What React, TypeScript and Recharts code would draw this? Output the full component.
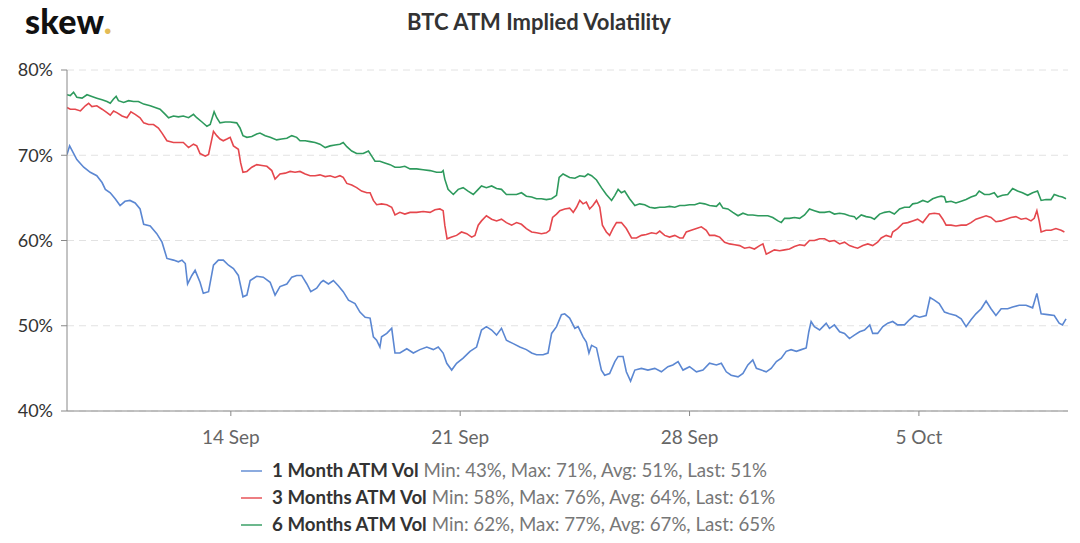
import { LineChart, Line, XAxis, YAxis, CartesianGrid } from "recharts";

// days since 9 Sep 00:00 -> implied vol (%)
const oneMonth: [number, number][] = [
  [0, 70.1], [0.08, 71.1], [0.3, 69.5], [0.51, 68.6], [0.71, 68.0], [0.91, 67.6], [1.07, 66.8], [1.17, 66.0],
  [1.32, 65.6], [1.47, 64.9], [1.62, 64.1], [1.77, 64.6], [1.92, 64.7], [2.08, 64.4], [2.23, 63.7], [2.34, 61.9],
  [2.54, 61.7], [2.74, 60.8], [2.9, 59.8], [3.05, 57.9], [3.25, 57.7], [3.4, 57.5], [3.51, 57.7], [3.61, 57.3],
  [3.68, 54.9], [3.81, 55.9], [3.91, 56.5], [4.06, 55.1], [4.16, 53.8], [4.32, 54.0], [4.47, 57.1], [4.62, 57.7],
  [4.77, 57.7], [4.93, 57.1], [5.08, 56.7], [5.23, 55.9], [5.37, 53.4], [5.49, 53.6], [5.59, 55.3], [5.79, 55.8],
  [5.99, 55.7], [6.2, 55.1], [6.35, 53.6], [6.5, 54.6], [6.71, 54.9], [6.86, 55.7], [7.01, 55.9], [7.16, 55.9],
  [7.32, 54.9], [7.44, 54.0], [7.62, 54.4], [7.75, 55.1], [7.82, 55.3], [7.98, 54.9], [8.13, 55.3], [8.28, 54.7],
  [8.43, 54.0], [8.59, 53.0], [8.79, 52.6], [8.94, 51.6], [9.1, 51.0], [9.25, 50.9], [9.35, 48.7], [9.45, 48.3],
  [9.55, 47.5], [9.6, 48.7], [9.76, 49.1], [9.91, 49.7], [10.01, 46.8], [10.16, 46.8], [10.37, 47.3], [10.57, 46.8],
  [10.77, 47.2], [10.98, 47.5], [11.18, 47.2], [11.33, 47.5], [11.48, 46.8], [11.59, 45.6], [11.74, 44.8], [11.89, 45.6],
  [12.09, 46.2], [12.3, 47.0], [12.5, 47.5], [12.65, 49.5], [12.8, 49.9], [12.96, 49.5], [13.11, 48.9], [13.26, 49.7],
  [13.41, 48.3], [13.62, 47.9], [13.82, 47.5], [14.02, 47.2], [14.18, 46.8], [14.33, 46.6], [14.53, 46.6], [14.68, 46.8],
  [14.79, 49.1], [14.94, 49.9], [15.09, 51.3], [15.19, 51.4], [15.34, 50.9], [15.5, 49.7], [15.6, 49.9], [15.75, 48.7],
  [15.85, 48.1], [15.93, 46.8], [16.01, 47.7], [16.16, 47.4], [16.31, 44.8], [16.41, 44.2], [16.56, 44.4], [16.72, 45.8],
  [16.82, 46.4], [16.97, 46.4], [17.07, 44.6], [17.2, 43.5], [17.33, 44.8], [17.53, 45.0], [17.73, 44.8], [17.94, 45.0],
  [18.14, 44.6], [18.34, 45.2], [18.49, 45.4], [18.65, 45.8], [18.8, 44.8], [19.0, 45.2], [19.21, 44.6], [19.41, 44.8],
  [19.61, 45.6], [19.82, 45.4], [19.97, 45.6], [20.12, 44.6], [20.27, 44.2], [20.48, 44.0], [20.63, 44.4], [20.78, 45.4],
  [20.93, 46.0], [21.04, 45.0], [21.19, 44.8], [21.34, 44.6], [21.49, 45.0], [21.65, 45.8], [21.8, 46.2], [21.95, 47.0],
  [22.1, 47.2], [22.26, 47.0], [22.41, 47.2], [22.56, 47.4], [22.64, 49.3], [22.71, 50.5], [22.81, 49.9], [22.97, 49.5],
  [23.07, 49.9], [23.17, 50.3], [23.27, 49.7], [23.42, 50.1], [23.58, 49.3], [23.73, 49.1], [23.88, 48.5], [24.03, 48.9],
  [24.19, 49.3], [24.34, 49.5], [24.5, 50.1], [24.59, 49.1], [24.74, 49.1], [24.9, 49.9], [25.05, 50.3], [25.2, 50.5],
  [25.35, 50.1], [25.56, 50.1], [25.71, 50.7], [25.86, 51.2], [26.02, 51.0], [26.22, 51.2], [26.34, 53.3], [26.47, 53.0],
  [26.62, 52.6], [26.78, 51.6], [26.93, 51.4], [27.13, 51.2], [27.29, 50.8], [27.44, 49.9], [27.59, 50.7], [27.74, 51.4],
  [27.9, 52.0], [28.05, 52.9], [28.2, 52.0], [28.35, 51.2], [28.51, 52.0], [28.71, 52.0], [28.86, 52.2], [29.06, 52.4],
  [29.27, 52.4], [29.47, 52.1], [29.6, 53.8], [29.73, 51.4], [29.93, 51.3], [30.13, 51.2], [30.28, 50.3], [30.38, 50.1],
  [30.49, 50.8],
];

const threeMonths: [number, number][] = [
  [0, 75.6], [0.1, 75.4], [0.25, 75.4], [0.41, 75.2], [0.56, 75.8], [0.66, 76.1], [0.76, 75.7], [0.91, 75.8],
  [1.07, 75.4], [1.22, 75.0], [1.32, 74.7], [1.42, 75.2], [1.52, 75.0], [1.68, 74.6], [1.83, 74.4], [1.95, 75.1],
  [2.08, 74.8], [2.23, 74.4], [2.34, 73.8], [2.49, 73.6], [2.64, 73.6], [2.79, 73.2], [2.9, 72.6], [3.05, 71.7],
  [3.25, 71.5], [3.4, 71.5], [3.55, 71.5], [3.71, 70.9], [3.86, 71.3], [3.96, 71.1], [4.06, 70.2], [4.22, 69.9],
  [4.32, 70.1], [4.42, 71.9], [4.47, 72.8], [4.57, 72.3], [4.67, 71.9], [4.77, 71.7], [4.88, 71.9], [4.98, 72.1],
  [5.08, 71.1], [5.23, 70.7], [5.3, 69.1], [5.37, 68.0], [5.49, 68.1], [5.64, 68.6], [5.79, 68.9], [5.95, 68.8],
  [6.1, 68.7], [6.25, 68.2], [6.35, 67.2], [6.5, 67.8], [6.66, 67.9], [6.81, 68.1], [6.96, 68.0], [7.11, 68.1],
  [7.27, 67.8], [7.42, 67.6], [7.57, 67.6], [7.72, 67.7], [7.88, 67.5], [8.03, 67.6], [8.18, 67.4], [8.33, 67.6],
  [8.43, 67.4], [8.54, 66.7], [8.69, 66.5], [8.84, 66.2], [8.99, 65.8], [9.15, 65.6], [9.25, 65.6], [9.35, 64.7],
  [9.45, 64.2], [9.6, 64.3], [9.76, 64.2], [9.91, 63.9], [10.01, 63.0], [10.16, 63.3], [10.31, 63.1], [10.47, 63.3],
  [10.67, 63.3], [10.87, 63.4], [11.08, 63.3], [11.23, 63.6], [11.38, 63.7], [11.48, 63.5], [11.53, 61.8], [11.6, 60.2],
  [11.74, 60.4], [11.89, 60.6], [12.04, 61.0], [12.2, 60.8], [12.35, 60.4], [12.45, 60.6], [12.55, 61.8], [12.65, 62.3],
  [12.8, 62.9], [12.96, 62.5], [13.11, 62.3], [13.26, 62.5], [13.41, 62.1], [13.57, 61.8], [13.72, 62.1], [13.87, 61.9],
  [14.02, 61.4], [14.18, 61.0], [14.33, 60.9], [14.48, 60.8], [14.63, 60.9], [14.73, 61.2], [14.82, 62.7], [14.94, 63.1],
  [15.04, 63.5], [15.19, 63.7], [15.34, 63.8], [15.45, 63.3], [15.55, 63.9], [15.65, 64.7], [15.75, 64.3], [15.85, 64.5],
  [15.95, 63.7], [16.05, 64.1], [16.16, 64.7], [16.26, 63.9], [16.34, 61.8], [16.46, 61.0], [16.56, 60.6], [16.66, 61.4],
  [16.77, 62.1], [16.92, 62.1], [17.07, 61.4], [17.23, 60.3], [17.38, 60.3], [17.53, 60.6], [17.68, 60.7], [17.84, 60.9],
  [17.99, 60.8], [18.09, 61.1], [18.24, 60.6], [18.39, 60.4], [18.55, 60.6], [18.7, 60.3], [18.8, 60.3], [18.9, 61.0],
  [19.05, 61.2], [19.21, 61.4], [19.36, 61.6], [19.51, 61.2], [19.61, 60.6], [19.77, 60.6], [19.92, 60.4], [20.07, 59.8],
  [20.22, 59.6], [20.38, 59.5], [20.53, 59.4], [20.68, 59.1], [20.83, 59.2], [20.98, 59.0], [21.14, 59.4], [21.24, 59.6],
  [21.34, 58.4], [21.44, 58.6], [21.59, 58.9], [21.75, 58.8], [21.9, 58.9], [22.05, 59.0], [22.2, 59.3], [22.36, 59.5],
  [22.51, 59.4], [22.66, 60.0], [22.81, 60.0], [22.97, 60.2], [23.12, 60.2], [23.27, 59.9], [23.42, 60.0], [23.58, 59.6],
  [23.73, 59.8], [23.88, 59.4], [24.03, 59.2], [24.13, 59.1], [24.29, 59.4], [24.44, 59.6], [24.59, 59.4], [24.74, 59.8],
  [24.85, 60.3], [25.0, 60.6], [25.15, 60.4], [25.2, 61.0], [25.35, 61.4], [25.51, 62.0], [25.66, 62.1], [25.81, 62.3],
  [25.96, 62.5], [26.12, 62.1], [26.22, 62.6], [26.32, 63.1], [26.47, 63.2], [26.62, 63.1], [26.73, 62.5], [26.83, 61.8],
  [26.98, 61.8], [27.13, 61.7], [27.29, 61.8], [27.44, 61.8], [27.59, 62.1], [27.74, 62.5], [27.9, 62.7], [28.05, 62.9],
  [28.2, 62.7], [28.35, 62.2], [28.51, 62.3], [28.66, 62.5], [28.81, 62.7], [28.96, 62.8], [29.12, 62.5], [29.27, 62.6],
  [29.42, 62.3], [29.52, 62.6], [29.6, 63.5], [29.67, 62.3], [29.73, 61.0], [29.88, 61.2], [30.03, 61.2], [30.18, 61.4],
  [30.34, 61.2], [30.44, 61.0],
];

const sixMonths: [number, number][] = [
  [0, 77.1], [0.1, 77.0], [0.2, 77.4], [0.3, 76.8], [0.46, 76.7], [0.61, 77.1], [0.76, 76.9], [0.91, 76.7],
  [1.07, 76.5], [1.22, 76.3], [1.32, 76.1], [1.42, 76.6], [1.5, 76.9], [1.57, 76.4], [1.73, 76.2], [1.88, 76.4],
  [2.03, 76.3], [2.18, 76.3], [2.34, 76.0], [2.54, 75.8], [2.69, 75.6], [2.84, 75.4], [3.0, 74.8], [3.1, 74.4],
  [3.25, 74.6], [3.4, 74.5], [3.55, 74.6], [3.71, 74.4], [3.86, 74.8], [3.96, 74.4], [4.12, 73.9], [4.27, 73.4],
  [4.37, 73.6], [4.49, 75.1], [4.57, 74.4], [4.67, 73.8], [4.83, 73.9], [4.98, 73.9], [5.18, 73.8], [5.28, 73.2],
  [5.37, 72.3], [5.49, 72.1], [5.64, 72.2], [5.79, 72.5], [5.89, 72.6], [6.05, 72.3], [6.2, 72.1], [6.4, 71.8],
  [6.55, 71.9], [6.71, 72.0], [6.86, 72.3], [7.01, 72.1], [7.11, 71.7], [7.27, 71.7], [7.42, 71.6], [7.57, 71.5],
  [7.72, 71.3], [7.88, 70.9], [8.03, 71.1], [8.18, 71.2], [8.33, 71.3], [8.43, 71.5], [8.54, 71.0], [8.69, 70.5],
  [8.84, 70.2], [9.04, 70.2], [9.2, 70.5], [9.3, 69.9], [9.4, 69.3], [9.55, 69.3], [9.7, 69.1], [9.86, 68.9],
  [10.01, 68.6], [10.16, 68.6], [10.31, 68.7], [10.47, 68.4], [10.67, 68.4], [10.87, 68.3], [11.08, 68.2], [11.28, 68.0],
  [11.43, 68.0], [11.48, 68.2], [11.53, 67.2], [11.63, 66.0], [11.79, 65.4], [11.94, 66.0], [12.09, 66.2], [12.24, 65.8],
  [12.4, 65.4], [12.55, 66.0], [12.65, 66.4], [12.8, 66.2], [12.96, 66.4], [13.11, 66.1], [13.26, 66.0], [13.41, 65.4],
  [13.57, 65.4], [13.72, 65.4], [13.87, 65.6], [14.02, 65.2], [14.18, 65.1], [14.33, 64.9], [14.48, 64.9], [14.63, 64.8],
  [14.79, 64.9], [14.94, 65.3], [15.02, 67.4], [15.14, 67.8], [15.24, 67.6], [15.34, 67.4], [15.5, 67.3], [15.65, 67.6],
  [15.8, 67.5], [15.9, 67.8], [16.01, 67.6], [16.16, 67.1], [16.31, 66.2], [16.46, 65.4], [16.62, 64.7], [16.72, 65.3],
  [16.82, 66.0], [16.92, 65.6], [17.02, 65.8], [17.17, 64.9], [17.33, 64.1], [17.48, 64.3], [17.63, 64.2], [17.78, 63.9],
  [17.94, 63.8], [18.09, 63.9], [18.24, 63.9], [18.39, 64.0], [18.55, 63.9], [18.7, 64.1], [18.85, 64.1], [19.0, 64.2],
  [19.16, 64.2], [19.31, 64.4], [19.46, 64.3], [19.61, 64.1], [19.82, 64.0], [19.92, 64.4], [20.02, 63.8], [20.17, 63.7],
  [20.32, 63.3], [20.48, 62.9], [20.63, 63.2], [20.78, 63.0], [20.93, 63.0], [21.09, 62.9], [21.24, 62.9], [21.39, 62.9],
  [21.54, 62.7], [21.7, 62.3], [21.8, 62.1], [21.9, 62.6], [22.05, 62.6], [22.2, 62.7], [22.36, 62.6], [22.51, 63.0],
  [22.66, 63.7], [22.81, 63.5], [22.97, 63.3], [23.12, 63.3], [23.27, 63.4], [23.42, 63.1], [23.58, 63.2], [23.73, 63.1],
  [23.88, 62.9], [24.03, 62.8], [24.09, 62.5], [24.24, 63.0], [24.39, 62.8], [24.54, 62.7], [24.64, 62.5], [24.8, 63.1],
  [24.95, 63.3], [25.1, 63.4], [25.25, 63.1], [25.41, 63.7], [25.56, 63.9], [25.71, 63.9], [25.81, 64.3], [25.96, 64.4],
  [26.12, 64.7], [26.27, 64.5], [26.42, 64.9], [26.57, 65.1], [26.68, 65.2], [26.78, 65.1], [26.83, 64.5], [26.98, 64.6],
  [27.13, 64.4], [27.29, 64.6], [27.44, 64.8], [27.59, 65.1], [27.74, 65.3], [27.84, 65.8], [28.0, 65.4], [28.15, 65.4],
  [28.3, 65.6], [28.4, 65.1], [28.55, 65.3], [28.71, 65.4], [28.86, 66.1], [29.01, 65.8], [29.16, 65.6], [29.32, 65.3],
  [29.47, 65.6], [29.62, 65.8], [29.73, 64.7], [29.88, 64.8], [30.03, 64.8], [30.13, 65.4], [30.28, 65.2], [30.38, 65.1],
  [30.49, 64.9],
];

const xTickDays = [5, 12, 19, 26];
const xTickLabels = ["14 Sep", "21 Sep", "28 Sep", "5 Oct"];
const yTicks = [40, 50, 60, 70, 80];

const seriesNames = ["1 Month ATM Vol", "3 Months ATM Vol", "6 Months ATM Vol"];
const seriesStats = [
  "Min: 43%, Max: 71%, Avg: 51%, Last: 51%",
  "Min: 58%, Max: 76%, Avg: 64%, Last: 61%",
  "Min: 62%, Max: 77%, Avg: 67%, Last: 65%",
];
const seriesColors = ["#5b87d2", "#e5474d", "#2e9a5d"];

const toPoints = (rows: [number, number][]) => rows.map(([t, v]) => ({ t, v }));
const seriesData = [toPoints(oneMonth), toPoints(threeMonths), toPoints(sixMonths)];

const FONT = "Lato, 'Open Sans', sans-serif";

export default function App() {
  return (
    <div style={{ position: "absolute", left: 0, top: 0, width: 1080, height: 543, background: "#fff", fontFamily: FONT }}>
      {/* logo */}
      <div style={{ position: "absolute", left: 25, top: 1, fontSize: 34, lineHeight: "40px", fontWeight: 900, color: "#111", letterSpacing: 0.3 }}>
        skew<span style={{ color: "#e3bb55" }}>.</span>
      </div>
      <div style={{ position: "absolute", left: 0, top: 8, width: 1078, textAlign: "center", fontSize: 22, lineHeight: "28px", fontWeight: 700, color: "#333" }}>
        BTC ATM Implied Volatility
      </div>

      <LineChart width={1080} height={543} margin={{ top: 70, right: 12, bottom: 102, left: 0 }}>
        <CartesianGrid vertical={false} stroke="#e2e2e2" strokeDasharray="7 5" />
        <XAxis
          type="number"
          dataKey="t"
          domain={[0, 30.55]}
          allowDataOverflow
          ticks={xTickDays}
          tickFormatter={(d) => xTickLabels[xTickDays.indexOf(d)] ?? ""}
          stroke="#888"
          tickSize={5}
          tickMargin={15}
          tick={{ fill: "#666", fontSize: 19 }}
        />
        <YAxis
          type="number"
          domain={[40, 80]}
          ticks={yTicks}
          width={67}
          tickFormatter={(v) => `${v}%`}
          stroke="#888"
          tickSize={6}
          tickMargin={8}
          tick={{ fill: "#333", fontSize: 18 }}
        />
        {seriesData.map((data, i) => (
          <Line
            key={seriesNames[i]}
            data={data}
            dataKey="v"
            type="linear"
            stroke={seriesColors[i]}
            strokeWidth={1.6}
            dot={false}
            isAnimationActive={false}
          />
        ))}
      </LineChart>

      {/* legend */}
      <div style={{ position: "absolute", left: 241, top: 457, fontSize: 18.7, lineHeight: "27px" }}>
        {seriesNames.map((name, i) => (
          <div key={name} style={{ display: "flex", alignItems: "center", whiteSpace: "nowrap" }}>
            <span style={{ display: "inline-block", width: 21, height: 2, background: seriesColors[i], opacity: 0.7, marginRight: 10 }} />
            <span style={{ fontWeight: 700, color: "#333" }}>{name}</span>
            <span style={{ color: "#777", marginLeft: 5 }}>{seriesStats[i]}</span>
          </div>
        ))}
      </div>
    </div>
  );
}
